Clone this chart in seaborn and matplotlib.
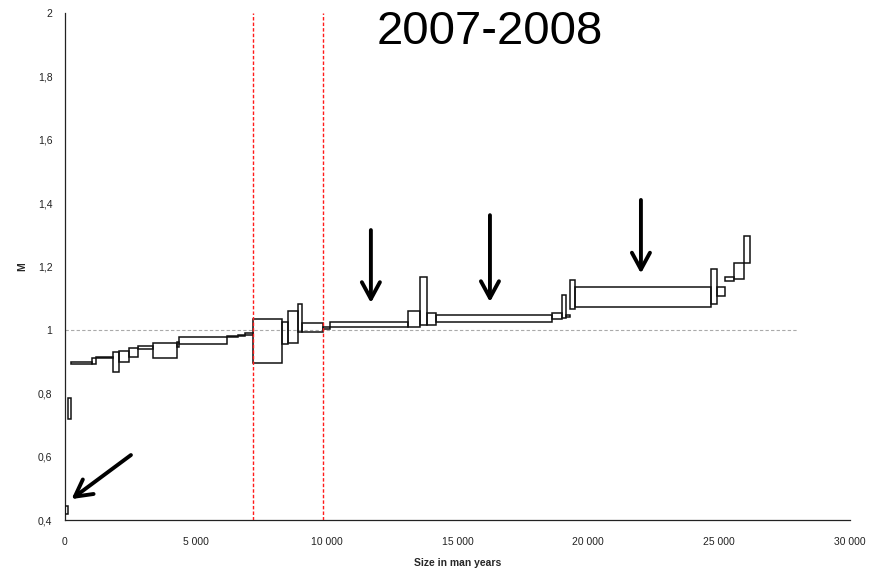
import numpy as np
import seaborn as sns
import matplotlib.pyplot as plt

# box sizes (man years), in order along the x axis
sizes = [96, 122, 825, 142, 661, 229, 371, 332, 597, 894, 88, 1846,
         408, 268, 294, 1109, 229, 405, 153, 803, 256, 2962, 458, 275,
         344, 4433, 405, 142, 152, 191, 5198, 218, 317, 355, 383, 218]
lows = [0.419, 0.719, 0.892, 0.892, 0.910, 0.868, 0.900, 0.913, 0.940, 0.910,
        0.947, 0.954, 0.978, 0.981, 0.984, 0.896, 0.954, 0.960, 0.992, 0.994,
        1.004, 1.010, 1.010, 1.015, 1.016, 1.026, 1.034, 1.036, 1.040, 1.066,
        1.071, 1.082, 1.107, 1.154, 1.160, 1.210]
highs = [0.444, 0.785, 0.899, 0.911, 0.913, 0.931, 0.934, 0.942, 0.948, 0.958,
         0.961, 0.976, 0.982, 0.985, 0.991, 1.034, 1.026, 1.060, 1.081, 1.021,
         1.008, 1.026, 1.059, 1.168, 1.053, 1.047, 1.052, 1.110, 1.047, 1.157,
         1.136, 1.191, 1.136, 1.168, 1.210, 1.296]

cutoffs = [7173, 9872]
ref_x = [0, 28000]
ref_y = [1, 1]

# arrows: (tail x, tail y) -> (tip x, tip y)
arrow_tails = [(2520, 0.605), (11690, 1.315), (16240, 1.362), (22010, 1.41)]
arrow_tips = [(250, 0.466), (11690, 1.085), (16240, 1.088), (22010, 1.178)]

title = "2007-2008"

sns.set_style("white")
plt.rcParams['font.family'] = ['Liberation Sans', 'DejaVu Sans']

fig = plt.figure(figsize=(8.85, 5.72), dpi=100)
ax = fig.add_axes([65 / 885, 52 / 572, 785 / 885, 507 / 572])

starts = np.concatenate([[0], np.cumsum(sizes)[:-1]])
heights = np.array(highs) - np.array(lows)
ax.bar(starts, heights, width=sizes, bottom=lows, align='edge',
       facecolor='none', edgecolor='#111111', linewidth=1.1, zorder=3)

sns.lineplot(x=ref_x, y=ref_y, ax=ax, color='#aaaaaa', linewidth=0.8,
             linestyle=(0, (3, 2)), zorder=2)
for c in cutoffs:
    ax.axvline(c, color='#ff1a1a', linewidth=1.0, linestyle=(0, (2.5, 1.5)), zorder=4)

for (tx, ty), (hx, hy) in zip(arrow_tails, arrow_tips):
    ax.annotate("", xy=(hx, hy), xytext=(tx, ty),
                arrowprops=dict(arrowstyle='->,head_length=1.2,head_width=0.65',
                                color='black', lw=2.8, shrinkA=0, shrinkB=0),
                zorder=5)

ax.text(16240, 1.94, title, fontsize=34, ha='center', va='center', color='black')

ax.set_xlim(0, 30000)
ax.set_ylim(0.4, 2)
xt = np.arange(0, 30001, 5000)
yt = np.arange(0.4, 2.01, 0.2)
ax.set_xticks(xt)
ax.set_xticklabels([f"{v:,.0f}".replace(',', ' ') for v in xt])
ax.set_yticks(yt)
ax.set_yticklabels([f"{v:g}".replace('.', ',') for v in np.round(yt, 1)])
ax.tick_params(axis='both', direction='out', length=4, width=0.8,
               color='black', labelsize=7.5, pad=5, labelcolor='#222222')
ax.tick_params(axis='x', pad=8)

for s in ['top', 'right']:
    ax.spines[s].set_visible(False)
for s in ['left', 'bottom']:
    ax.spines[s].set_color('#222222')
    ax.spines[s].set_linewidth(0.9)

ax.set_xlabel("Size in man years", fontsize=7.5, fontweight='bold', labelpad=8)
ax.set_ylabel("M", fontsize=7.5, fontweight='bold', labelpad=8)

fig.savefig("out.png", dpi=100)
